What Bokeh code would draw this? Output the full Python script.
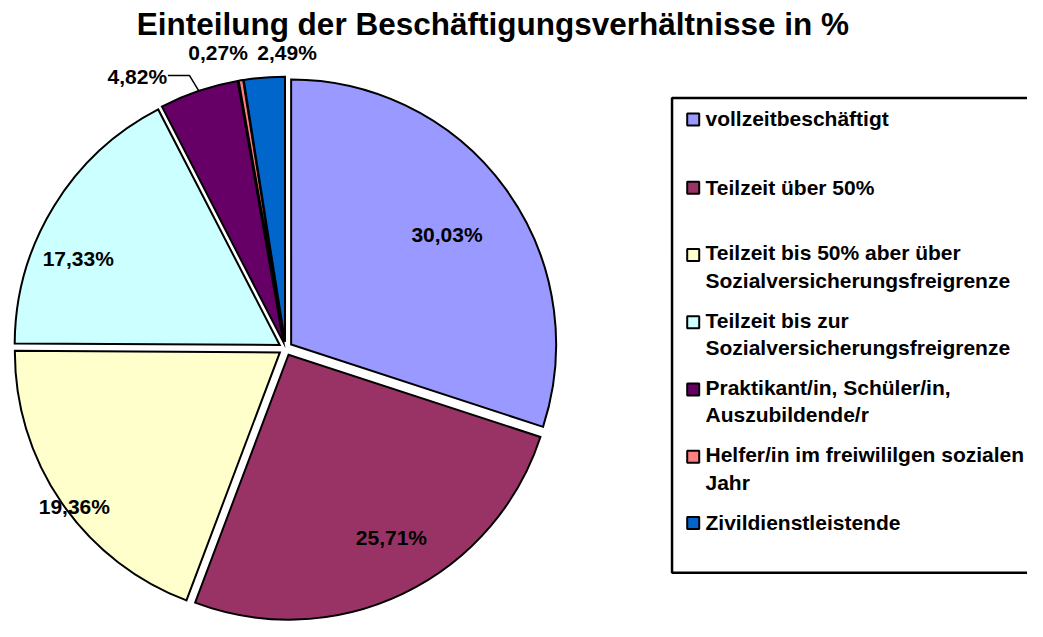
import math
from bokeh.plotting import figure
from bokeh.models import Range1d, ColumnDataSource
from bokeh.core.properties import value
from bokeh.embed import file_html
from bokeh.resources import INLINE

# ---------------- data ----------------
CATEGORIES = [
    "vollzeitbeschäftigt",
    "Teilzeit über 50%",
    "Teilzeit bis 50% aber über\nSozialversicherungsfreigrenze",
    "Teilzeit bis zur\nSozialversicherungsfreigrenze",
    "Praktikant/in, Schüler/in,\nAuszubildende/r",
    "Helfer/in im freiwililgen sozialen\nJahr",
    "Zivildienstleistende",
]
VALUES = [30.03, 25.71, 19.36, 17.33, 4.82, 0.27, 2.49]
COLORS = ["#9999FF", "#993366", "#FFFFCC", "#CCFFFF", "#660066", "#FF8080", "#0066CC"]
TITLE = "Einteilung der Beschäftigungsverhältnisse in %"

# ---------------- layout ----------------
FONT = value("Liberation Sans")
W, H = 1027, 621                 # figure size in pixels
XR, YR = 1043.0, 637.0           # data extent (canvas units of the original chart)
SX, SY = W / XR, H / YR          # pixels per data unit
CX, CY = 289.5, 357.0            # pie centre
R_PX = 265                       # pie radius in screen pixels
EXPLODE = 7.0                    # explosion offset (data units)
# label anchors (x centre, visual y centre)
LABEL_POS = [(453.5, 240), (397, 551), (75, 519), (79, 265), (139, 77.5), (221, 53.5), (291, 53.5)]

p = figure(width=W, height=H, output_backend="svg", toolbar_location=None,
           x_range=Range1d(0, XR), y_range=Range1d(-YR, 0),
           min_border=0, background_fill_color="white", border_fill_color="white")
p.axis.visible = False
p.grid.visible = False
p.outline_line_color = None

# ---------------- pie ----------------
total = sum(VALUES)
starts, ends, xs, ys, mids = [], [], [], [], []
cum = 0.0
for v in VALUES:
    a0 = math.pi / 2 - 2 * math.pi * cum / total
    cum += v
    a1 = math.pi / 2 - 2 * math.pi * cum / total
    mid = (a0 + a1) / 2
    starts.append(a0)
    ends.append(a1)
    mids.append(mid)
    xs.append(CX + EXPLODE * math.cos(mid))
    ys.append(-CY + EXPLODE * math.sin(mid))

src = ColumnDataSource(dict(x=xs, y=ys, start=starts, end=ends, color=COLORS, cat=CATEGORIES))
p.wedge(x="x", y="y", radius=R_PX, radius_units="screen", start_angle="start", end_angle="end",
        direction="clock", fill_color="color", line_color="black", line_width=2,
        line_join="miter", source=src)

# data labels
labels = [f"{v:.2f}".replace(".", ",") + "%" for v in VALUES]
p.text(x=[q[0] for q in LABEL_POS], y=[-q[1] for q in LABEL_POS], text=labels,
       text_font=FONT, text_font_style="bold", text_font_size="21px",
       text_align="center", text_baseline="middle", text_color="black")

# leader line for the small "Praktikant" slice label
i = 4
ex = xs[i] + (R_PX / SX) * math.cos(mids[i])
ey = ys[i] + (R_PX / SY) * math.sin(mids[i])
p.line(x=[170, 192, ex], y=[-77, -77, ey], line_color="black", line_width=1.5)

# title
p.text(x=[500], y=[-24], text=[TITLE], text_font=FONT, text_font_style="bold",
       text_font_size="31.5px", text_align="center", text_baseline="middle", text_color="black")

# ---------------- legend ----------------
p.quad(left=[682], right=[1080], top=[-100], bottom=[-587], fill_color="white",
       line_color="black", line_width=2.5)
ROW_CENTER = [121.5, 191.5, 260.5, 329.5, 398.5, 467.5, 535.5]   # first-line centres
LINE_STEP = 25.0
p.rect(x=[703.5] * len(ROW_CENTER), y=[-(c + 0.5) for c in ROW_CENTER], width=12, height=12,
       width_units="screen", height_units="screen",
       fill_color=COLORS, line_color="black", line_width=2)
block_y = [-(c + LINE_STEP * cat.count("\n") / 2) for c, cat in zip(ROW_CENTER, CATEGORIES)]
p.text(x=[716] * len(ROW_CENTER), y=block_y, text=CATEGORIES,
       text_font=FONT, text_font_style="bold", text_font_size="21px",
       text_align="left", text_baseline="middle", text_line_height=1.19, text_color="black")

open("out.html", "w").write(file_html(p, INLINE))
